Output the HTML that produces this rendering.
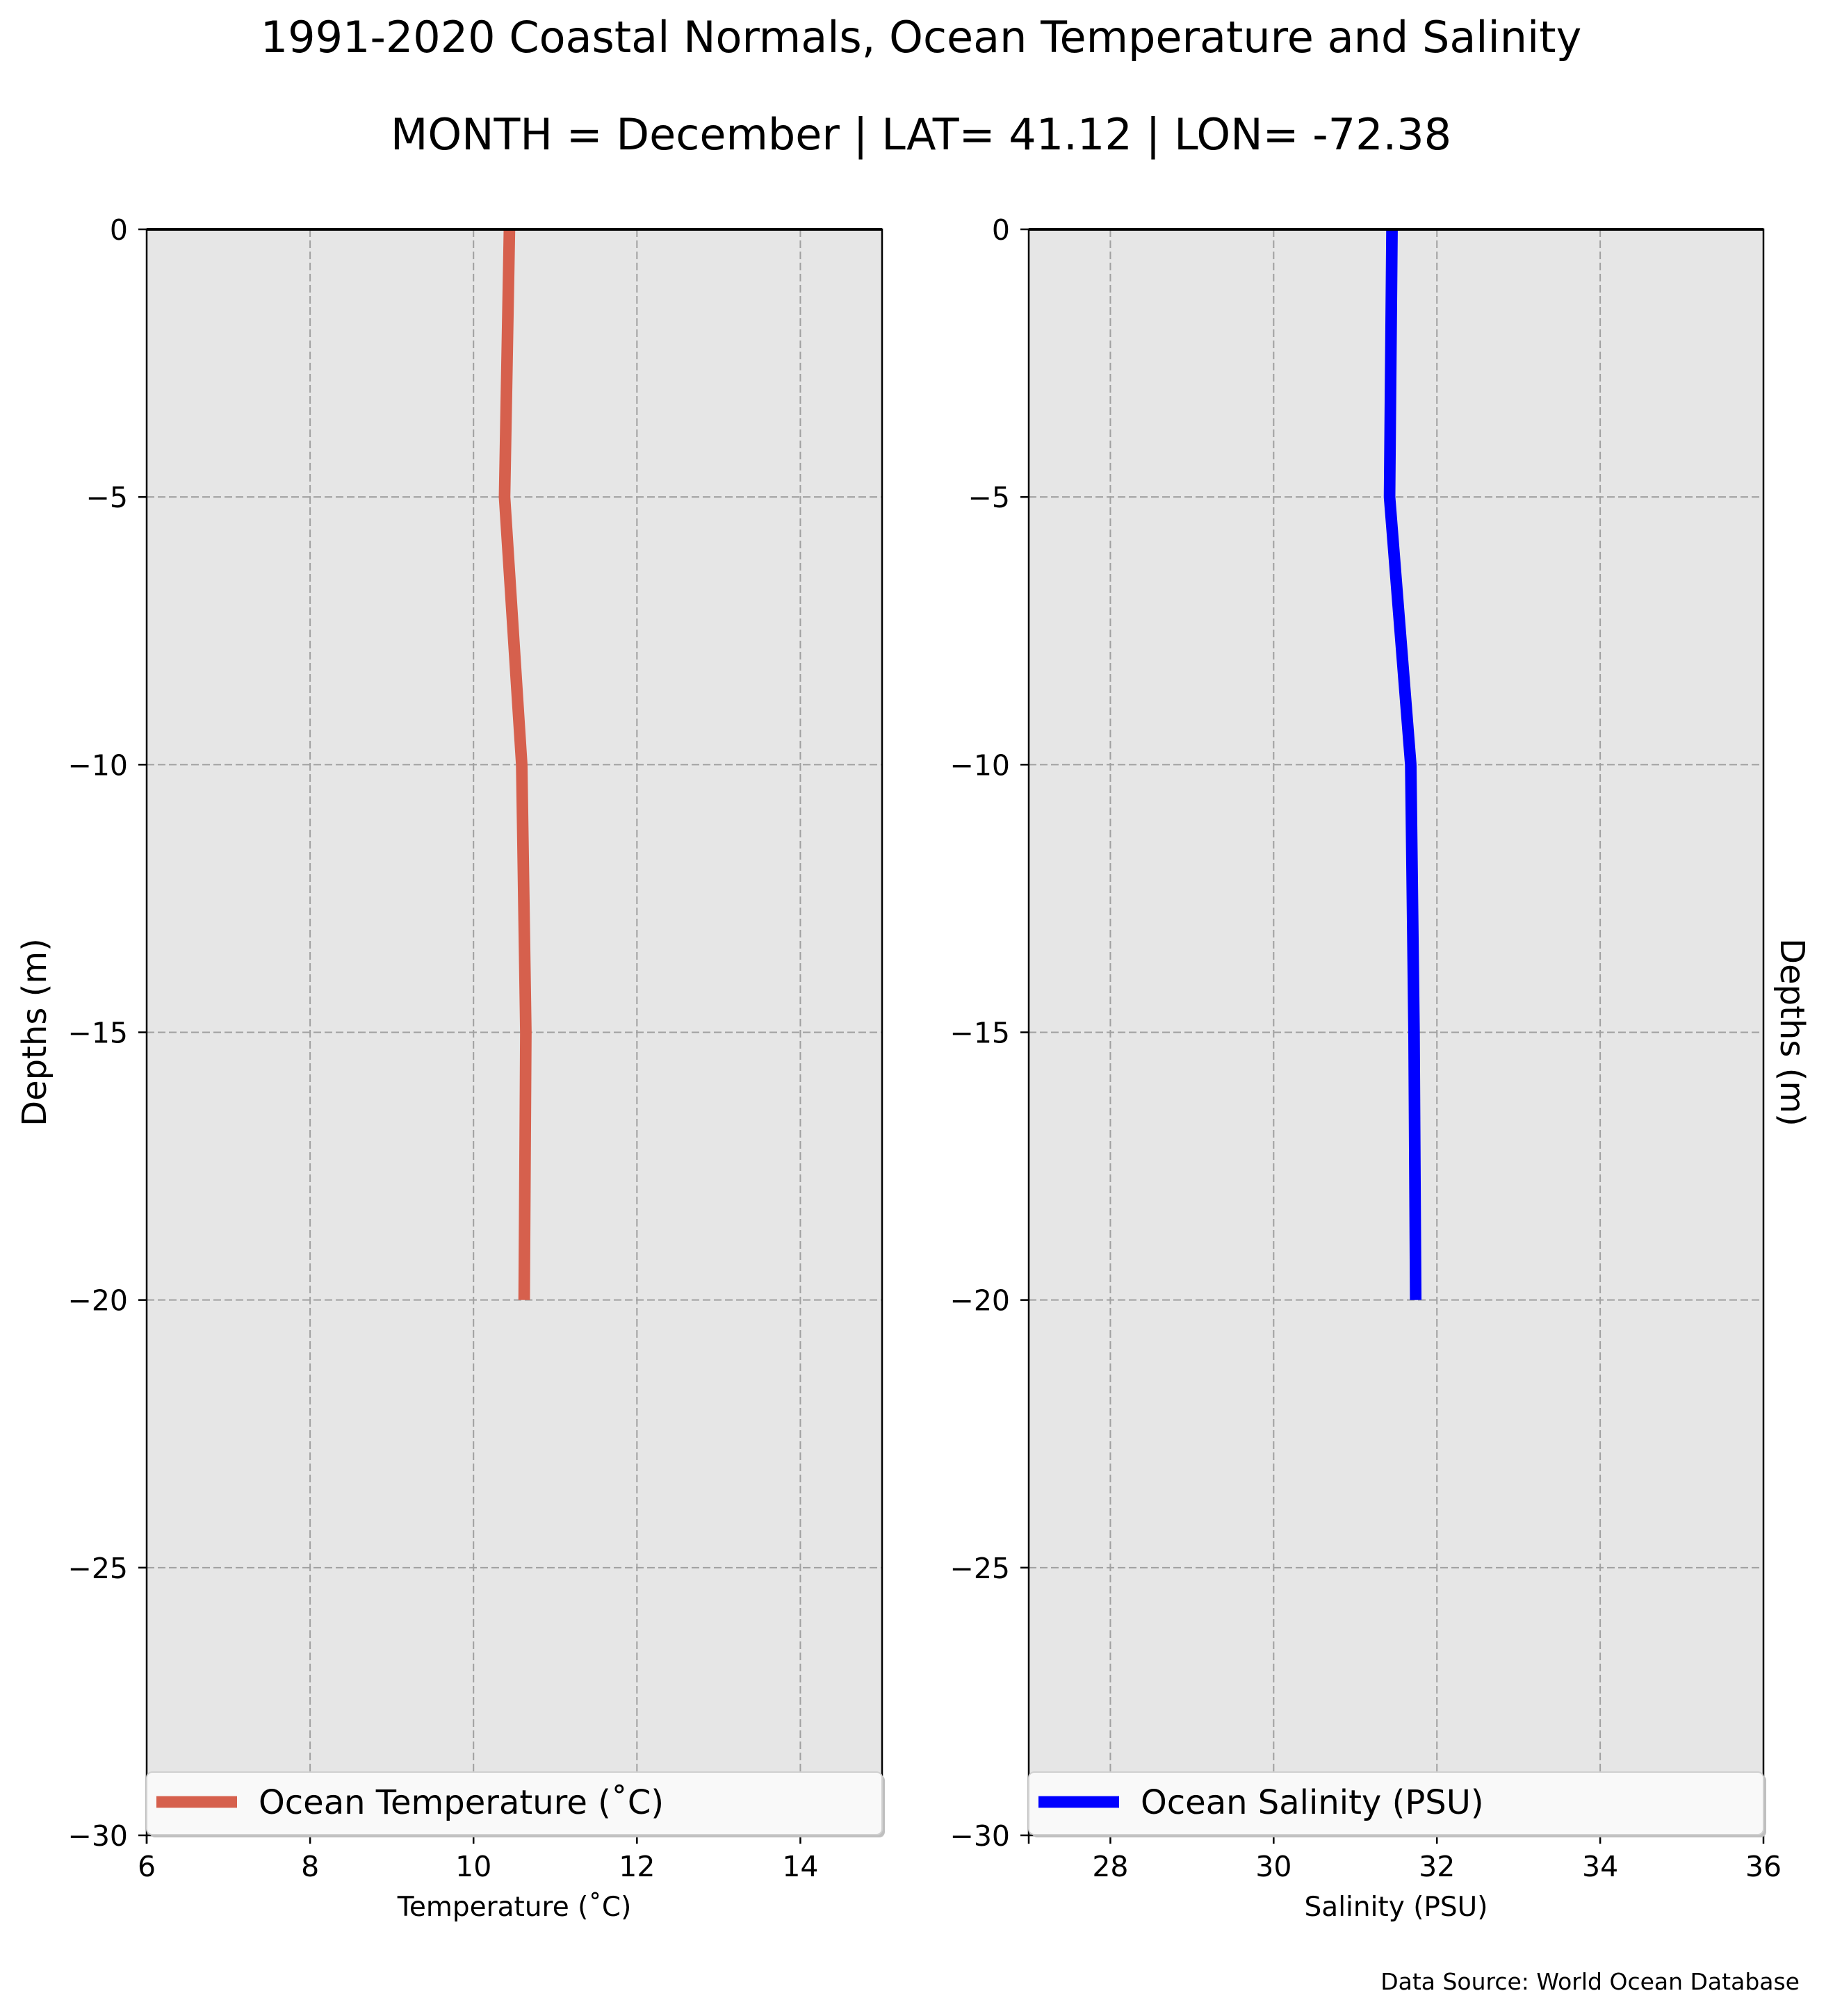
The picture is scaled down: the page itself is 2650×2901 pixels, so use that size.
<!DOCTYPE html>
<html><head><meta charset="utf-8">
<style>
html,body{margin:0;padding:0;background:#fff;}
svg{display:block;font-family:"DejaVu Sans","Liberation Sans",sans-serif;}
</style></head>
<body>
<svg id="fig" width="2650" height="2901" viewBox="0 0 2650 2901" xmlns="http://www.w3.org/2000/svg">
<rect width="2650" height="2901" fill="#fff"/>
<text x="1325" y="75" font-size="62" text-anchor="middle">1991-2020 Coastal Normals, Ocean Temperature and Salinity</text>
<text x="1325" y="215" font-size="62" text-anchor="middle">MONTH = December | LAT= 41.12 | LON= -72.38</text>
<text x="2589" y="2863" font-size="33" text-anchor="end">Data Source: World Ocean Database</text>
<g id="p1"></g>
<g id="p2"></g>
</svg>
<script>
const depths = [0, -5, -10, -15, -20];
const temperature = [10.44, 10.38, 10.59, 10.64, 10.62];
const salinity = [31.45, 31.42, 31.68, 31.72, 31.74];
const depthTicks = [0, -5, -10, -15, -20, -25, -30];
const tempTicks = [6, 8, 10, 12, 14];
const salTicks = [28, 30, 32, 34, 36];

const NS = "http://www.w3.org/2000/svg";
function mk(parent, tag, attrs) {
  const e = document.createElementNS(NS, tag);
  for (const k in attrs) e.setAttribute(k, attrs[k]);
  parent.appendChild(e);
  return e;
}
const TOP = 330, BOT = 2641;
function yScale(d) { return TOP + (0 - d) / 30 * (BOT - TOP); }

function panel(g, x0, x1, xmin, xmax, xticks, gridTicks, values, color, legendText, xlabel, ylabelSide, ylabTickRight) {
  const xs = v => x0 + (v - xmin) / (xmax - xmin) * (x1 - x0);
  const bg = mk(g, 'rect', {x: x0, y: TOP, width: x1 - x0, height: BOT - TOP, fill: '#e6e6e6'});
  
  
  // grid
  gridTicks.forEach(t => {
    const l = mk(g, 'line', {x1: xs(t), x2: xs(t), y1: TOP, y2: BOT, stroke: '#a0a0a0', 'stroke-width': 2, 'stroke-dasharray': '11 5'});
    
    
  });
  depthTicks.forEach(d => {
    const l = mk(g, 'line', {x1: x0, x2: x1, y1: yScale(d), y2: yScale(d), stroke: '#a0a0a0', 'stroke-width': 2, 'stroke-dasharray': '11 5'});
    
    
  });
  // series
  const pts = values.map((v, i) => xs(v).toFixed(1) + ',' + yScale(depths[i]).toFixed(1)).join(' ');
  const pl = mk(g, 'polyline', {points: pts, fill: 'none', stroke: color, 'stroke-width': 16.7, 'stroke-linejoin': 'round'});
  
  
  // spines
  const sp = mk(g, 'rect', {x: x0, y: TOP, width: x1 - x0, height: BOT - TOP, fill: 'none', stroke: '#000', 'stroke-width': 2.5});
  
  
  mk(g, 'line', {x1: x0, x2: x1, y1: TOP, y2: TOP, stroke: '#000', 'stroke-width': 4});
  // y ticks
  depthTicks.forEach(d => {
    mk(g, 'line', {x1: x0 - 12, x2: x0, y1: yScale(d), y2: yScale(d), stroke: '#000', 'stroke-width': 2.5});
    const t = mk(g, 'text', {x: ylabTickRight, y: yScale(d) + 15, 'font-size': 41, 'text-anchor': 'end'});
    t.textContent = d === 0 ? '0' : '\u2212' + Math.abs(d);
    
    
  });
  // x ticks
  xticks.forEach(v => {
    mk(g, 'line', {x1: xs(v), x2: xs(v), y1: BOT, y2: BOT + 12, stroke: '#000', 'stroke-width': 2.5});
    const t = mk(g, 'text', {x: xs(v), y: 2700, 'font-size': 41, 'text-anchor': 'middle'});
    t.textContent = v;
    
    
  });
  mk(g, 'line', {x1: x0, x2: x0, y1: BOT, y2: BOT + 12, stroke: '#000', 'stroke-width': 2.5});
  // legend
  const lg = mk(g, 'g', {});
  
  
  mk(lg, 'rect', {x: x0 + 4, y: 2554, width: x1 - x0, height: 90, rx: 8, fill: '#bfbfbf'});
  mk(lg, 'rect', {x: x0, y: 2550, width: x1 - x0, height: 90, rx: 8, fill: '#f9f9f9', stroke: '#d0d0d0', 'stroke-width': 2});
  const ll = mk(lg, 'line', {x1: x0 + 14, x2: x0 + 130, y1: 2593, y2: 2593, stroke: color, 'stroke-width': 16.7});
  
  
  const lt = mk(lg, 'text', {x: x0 + 161, y: 2610, 'font-size': 48});
  lt.textContent = legendText;
  
  
  // x label
  const xl = mk(g, 'text', {x: (x0 + x1) / 2, y: 2757, 'font-size': 39, 'text-anchor': 'middle'});
  xl.textContent = xlabel;
  
  
  // y label
  const cy = (TOP + BOT) / 2;
  let yl;
  if (ylabelSide === 'left') {
    yl = mk(g, 'text', {x: 0, y: 0, 'font-size': 48, 'text-anchor': 'middle', transform: 'translate(66,' + cy + ') rotate(-90)'});
  } else {
    yl = mk(g, 'text', {x: 0, y: 0, 'font-size': 48, 'text-anchor': 'middle', transform: 'translate(2562,' + cy + ') rotate(90)'});
  }
  yl.textContent = 'Depths (m)';
  
  
}

panel(document.getElementById('p1'), 211, 1269, 6, 15, tempTicks, [8, 10, 12, 14], temperature, '#d6604d',
  'Ocean Temperature (\u02DAC)', 'Temperature (\u02DAC)', 'left', 184);
panel(document.getElementById('p2'), 1480, 2537, 27, 36, salTicks, [28, 30, 32, 34], salinity, '#0000ff',
  'Ocean Salinity (PSU)', 'Salinity (PSU)', 'right', 1453);
</script>
</body></html>
